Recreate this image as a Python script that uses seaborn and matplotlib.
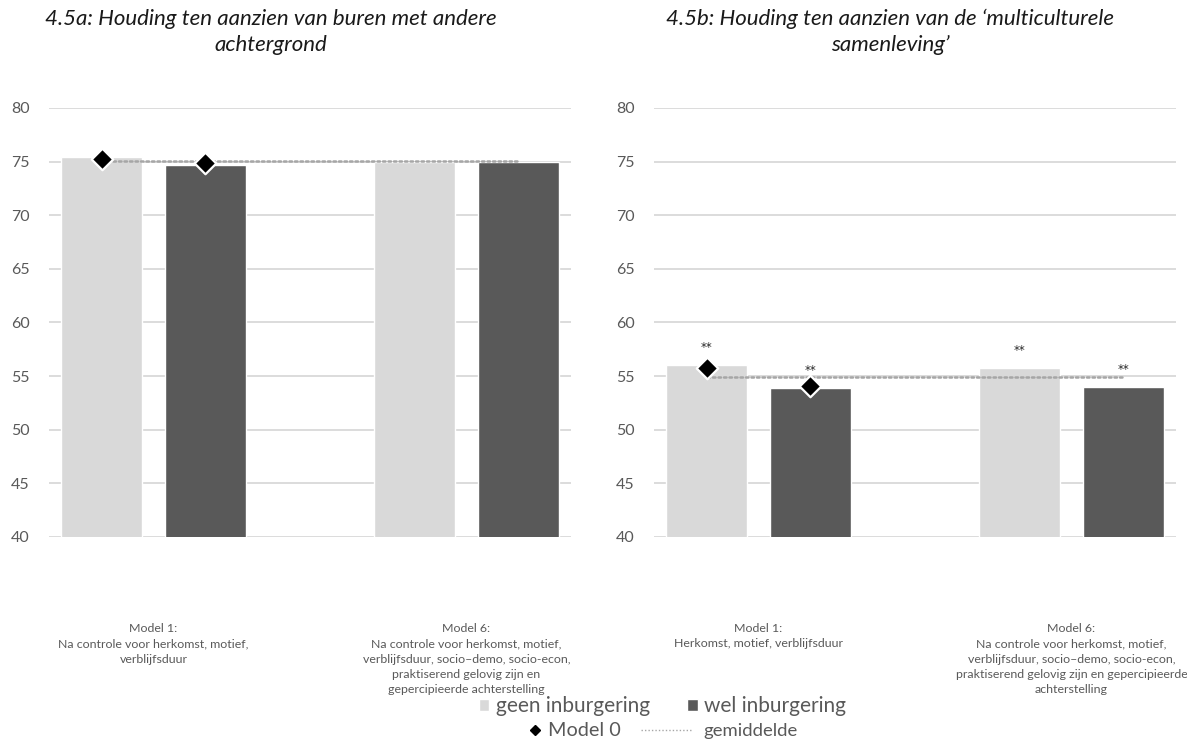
import pandas as pd
import numpy as np
import matplotlib
matplotlib.use("Agg")
import matplotlib.pyplot as plt
import seaborn as sns
from matplotlib.patches import Patch
from matplotlib.lines import Line2D

# data
models = ["Model 1", "Model 6"]
groups = ["geen inburgering", "wel inburgering"]

left_geen = [75.4, 75.0]
left_wel = [74.7, 75.0]
left_model0 = [75.2, 74.85]
left_avg = 75.05

right_geen = [56.0, 55.8]
right_wel = [53.9, 54.0]
right_model0 = [55.75, 54.05]
right_avg = 54.9
right_sig = ["**", "**", "**", "**"]   # order: geen M1, geen M6, wel M1, wel M6

left_title = "4.5a: Houding ten aanzien van buren met andere\nachtergrond"
right_title = "4.5b: Houding ten aanzien van de \u2018multiculturele\nsamenleving\u2019"

left_xlabels = [
    "Model 1:\nNa controle voor herkomst, motief,\nverblijfsduur",
    "Model 6:\nNa controle voor herkomst, motief,\nverblijfsduur, socio\u2013demo, socio-econ,\npraktiserend gelovig zijn en\ngepercipieerde achterstelling",
]
right_xlabels = [
    "Model 1:\nHerkomst, motief, verblijfsduur",
    "Model 6:\nNa controle voor herkomst, motief,\nverblijfsduur, socio\u2013demo, socio-econ,\npraktiserend gelovig zijn en gepercipieerde\nachterstelling",
]

LIGHT = "#d9d9d9"
DARK = "#595959"
TXT = "#595959"

sns.set_theme(style="white")
plt.rcParams["font.family"] = ["Lato", "DejaVu Sans"]

fig = plt.figure(figsize=(11.87, 7.42), dpi=100)
W, H = 1187, 742
ax_l = fig.add_axes([49 / W, 1 - 537 / H, 522 / W, 429 / H])
ax_r = fig.add_axes([654 / W, 1 - 537 / H, 522 / W, 429 / H])


def draw_panel(ax, geen, wel, model0, avg, xlabels, sig=None):
    df = pd.DataFrame({
        "model": models * 2,
        "groep": [groups[0]] * 2 + [groups[1]] * 2,
        "waarde": geen + wel,
    })
    sns.barplot(data=df, x="model", y="waarde", hue="groep", order=models,
                hue_order=groups, palette=[LIGHT, DARK], width=0.664, gap=0.22,
                errorbar=None, legend=False, ax=ax, zorder=2, saturation=1)

    # bar centres taken from the drawn bars
    centres = []
    tops = []
    for cont in ax.containers:
        for bar in cont:
            centres.append(bar.get_x() + bar.get_width() / 2)
            tops.append(bar.get_height())
    # containers: geen (M1, M6), wel (M1, M6)
    c_geen, c_wel = centres[:2], centres[2:]

    # gemiddelde line from first to last bar
    ax.plot([min(centres), max(centres)], [avg, avg], color="#a6a6a6",
            lw=1.8, linestyle=(0, (1, 1.2)), zorder=3, dash_capstyle="round")

    # model 0 diamonds on model 1 bars
    sns.scatterplot(x=[c_geen[0], c_wel[0]], y=model0, marker="D", color="black",
                    edgecolor="white", linewidth=1.6, s=120, ax=ax, zorder=5)

    if sig is not None:
        for x, top, s in zip(centres, tops, sig):
            ax.text(x, top + 1.3, s, ha="center", va="baseline", fontsize=8.5,
                    color="#262626", family="DejaVu Sans")

    ax.set_ylim(40, 80)
    ax.set_xlim(-0.334, 1.334)
    ax.set_yticks(np.arange(40, 81, 5))
    ax.yaxis.grid(True, color=LIGHT, lw=1.3)
    ax.set_axisbelow(True)
    for sp in ax.spines.values():
        sp.set_visible(False)
    ax.set_xlabel("")
    ax.set_ylabel("")
    ax.set_xticks(range(len(models)))
    ax.set_xticklabels(xlabels, fontsize=8.9, color=TXT, linespacing=1.48, va="top")
    ax.tick_params(axis="x", length=0, pad=62)
    ax.tick_params(axis="y", length=0, pad=14, labelsize=11.5, labelcolor=TXT)


draw_panel(ax_l, left_geen, left_wel, left_model0, left_avg, left_xlabels)
draw_panel(ax_r, right_geen, right_wel, right_model0, right_avg, right_xlabels,
           sig=right_sig)

fig.text(271 / W, 1 - 32 / H, left_title, ha="center", va="center", fontsize=16,
         style="italic", color="#1a1a1a", linespacing=1.33)
fig.text(890 / W, 1 - 32 / H, right_title, ha="center", va="center", fontsize=16,
         style="italic", color="#1a1a1a", linespacing=1.33)

# legend row 1
h1 = [Patch(facecolor=LIGHT), Patch(facecolor=DARK)]
fig.legend(h1, groups, loc="center left", bbox_to_anchor=(479 / W, 1 - 706 / H),
           ncol=2, frameon=False, fontsize=15, labelcolor=TXT, handlelength=0.5,
           handleheight=0.5, handletextpad=0.3, columnspacing=1.8,
           borderpad=0, borderaxespad=0)

# legend row 2
lg_a = fig.legend([Line2D([], [], marker="D", color="black", ls="none", ms=5)],
                  ["Model 0"], loc="center left",
                  bbox_to_anchor=(530 / W, 1 - 731 / H), frameon=False,
                  fontsize=14.3, labelcolor=TXT, handlelength=0.5,
                  handletextpad=0.4, borderpad=0, borderaxespad=0)
lg_b = fig.legend([Line2D([], [], color="#a6a6a6", lw=1.0, ls=(0, (1, 1.5)))],
                  ["gemiddelde"], loc="center left",
                  bbox_to_anchor=(641 / W, 1 - 731 / H), frameon=False,
                  fontsize=13.3, labelcolor=TXT, handlelength=2.8,
                  handletextpad=0.55, borderpad=0, borderaxespad=0)

fig.savefig("out.png", dpi=100)
